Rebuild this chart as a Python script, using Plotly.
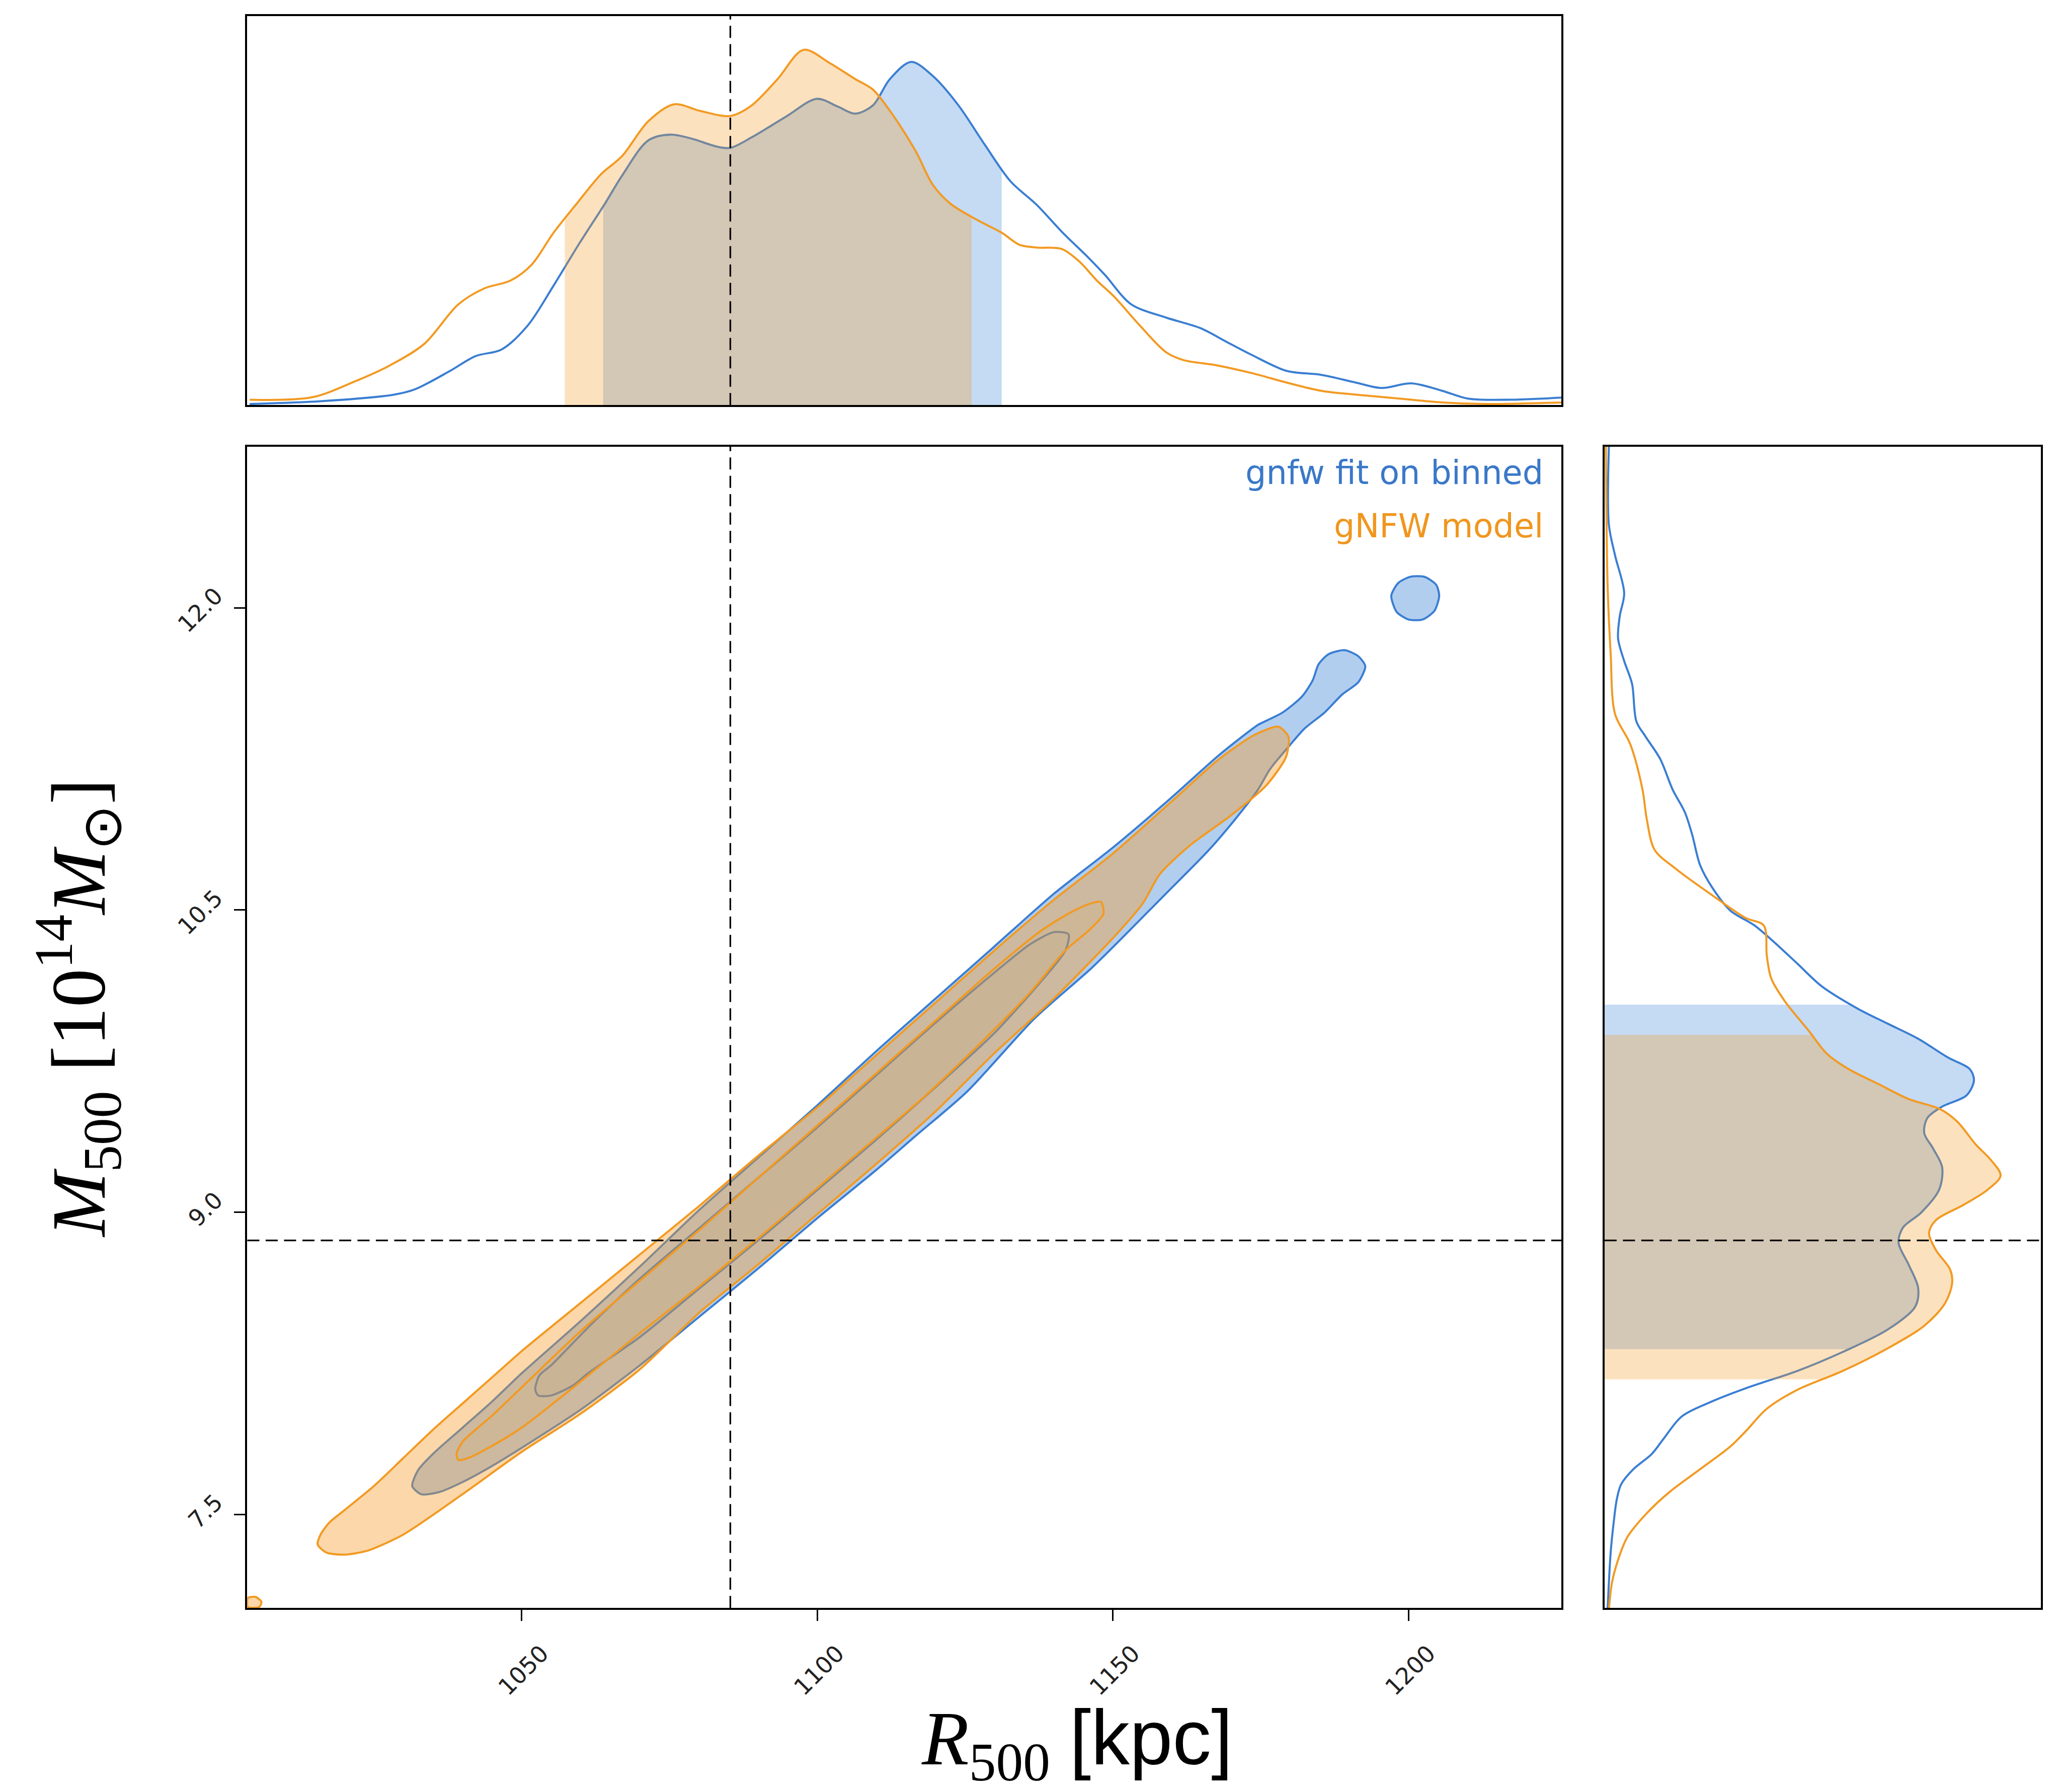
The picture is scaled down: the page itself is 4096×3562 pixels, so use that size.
import numpy as np
import plotly.graph_objects as go

S = 4096 / 4267
W, H = 4096, 3562
FW, FH = 4267, 3711

# ---------------- data ----------------
X_RANGE = [1003.6, 1225.9]
Y_RANGE = [7.035, 12.80]
R500_REF = 1085.3
M500_REF = 8.86

XTICKS = [1050, 1100, 1150, 1200]
XTICK_LABELS = ["1050", "1100", "1150", "1200"]
YTICKS = [7.5, 9.0, 10.5, 12.0]
YTICK_LABELS = ["7.5", "9.0", "10.5", "12.0"]

LEGEND_LABELS = ["gnfw fit on binned", "gNFW model"]

# top marginal (R500 density, normalised to panel height)
TOP_X_BLUE = [1004.0, 1016.0, 1028.4, 1032.0, 1037.9, 1042.2, 1046.6, 1051.0, 1055.4, 1059.7, 1064.1, 1067.0,
              1071.4, 1075.1, 1078.7, 1083.1, 1085.3, 1088.9, 1094.8, 1099.9, 1103.5, 1106.4, 1109.4, 1112.3,
              1115.9, 1119.6, 1123.9, 1128.3, 1132.7, 1137.1, 1141.4, 1145.8, 1148.7, 1153.1, 1159.0, 1164.8,
              1169.2, 1173.5, 1179.4, 1185.2, 1191.1, 1195.4, 1200.5, 1205.7, 1210.0, 1217.3, 1226.4]
TOP_D_BLUE = [0.003, 0.010, 0.027, 0.041, 0.088, 0.126, 0.143, 0.204, 0.307, 0.414, 0.518, 0.590,
              0.680, 0.695, 0.685, 0.664, 0.661, 0.688, 0.742, 0.787, 0.767, 0.749, 0.770, 0.838,
              0.882, 0.845, 0.770, 0.670, 0.575, 0.515, 0.445, 0.380, 0.334, 0.259, 0.225, 0.198,
              0.163, 0.129, 0.088, 0.078, 0.058, 0.044, 0.056, 0.037, 0.017, 0.014, 0.020]
TOP_X_ORANGE = [1004.0, 1014.5, 1021.8, 1027.7, 1033.5, 1039.3, 1043.7, 1048.1, 1051.7, 1055.4, 1059.7, 1063.4,
                1067.0, 1071.4, 1075.8, 1080.2, 1085.3, 1088.9, 1093.3, 1097.7, 1102.1, 1106.4, 1109.4, 1112.3,
                1116.6, 1119.6, 1122.5, 1126.9, 1131.2, 1134.2, 1137.1, 1141.4, 1144.4, 1147.3, 1150.2, 1154.6,
                1159.0, 1161.9, 1167.7, 1173.6, 1179.4, 1185.2, 1191.1, 1198.4, 1205.7, 1213.0, 1226.4]
TOP_D_ORANGE = [0.014, 0.020, 0.061, 0.102, 0.157, 0.259, 0.300, 0.320, 0.361, 0.443, 0.525, 0.593,
                0.640, 0.729, 0.773, 0.756, 0.743, 0.770, 0.838, 0.913, 0.879, 0.838, 0.811, 0.756,
                0.654, 0.565, 0.518, 0.477, 0.443, 0.412, 0.405, 0.401, 0.368, 0.320, 0.279, 0.204,
                0.136, 0.116, 0.102, 0.082, 0.058, 0.037, 0.027, 0.017, 0.007, 0.003, 0.007]
TOP_BAND_BLUE = [1063.8, 1131.2]
TOP_BAND_ORANGE = [1057.3, 1126.1]

# right marginal (M500 density, normalised to panel width)
RIGHT_Y_BLUE = [12.805, 12.411, 12.261, 12.073, 11.961, 11.848, 11.736, 11.623, 11.436, 11.361, 11.248, 11.098,
                10.986, 10.873, 10.723, 10.611, 10.498, 10.423, 10.348, 10.236, 10.123, 10.011, 9.936, 9.861,
                9.767, 9.711, 9.655, 9.580, 9.524, 9.467, 9.392, 9.317, 9.223, 9.111, 8.998, 8.923, 8.849,
                8.736, 8.624, 8.530, 8.417, 8.305, 8.211, 8.136, 8.061, 7.986, 7.874, 7.799, 7.724, 7.649,
                7.574, 7.461, 7.311, 7.030]
RIGHT_D_BLUE = [0.010, 0.010, 0.024, 0.045, 0.035, 0.031, 0.045, 0.063, 0.073, 0.094, 0.128, 0.156,
                0.184, 0.201, 0.219, 0.247, 0.288, 0.344, 0.385, 0.441, 0.497, 0.580, 0.649, 0.719,
                0.788, 0.837, 0.847, 0.830, 0.774, 0.740, 0.733, 0.753, 0.774, 0.767, 0.726, 0.684, 0.674,
                0.698, 0.719, 0.712, 0.649, 0.545, 0.441, 0.337, 0.247, 0.177, 0.135, 0.108, 0.066, 0.038,
                0.028, 0.021, 0.014, 0.007]
RIGHT_Y_ORANGE = [12.805, 12.111, 11.773, 11.473, 11.323, 11.098, 10.948, 10.798, 10.705, 10.573, 10.461,
                  10.423, 10.273, 10.161, 10.048, 9.898, 9.786, 9.711, 9.636, 9.561, 9.512, 9.449, 9.336,
                  9.261, 9.182, 9.111, 9.036, 8.961, 8.897, 8.811, 8.717, 8.650, 8.549, 8.436, 8.324, 8.211,
                  8.117, 8.024, 7.911, 7.836, 7.724, 7.611, 7.499, 7.386, 7.274, 7.161, 7.030]
RIGHT_D_ORANGE = [0.003, 0.007, 0.014, 0.024, 0.059, 0.087, 0.097, 0.115, 0.163, 0.247, 0.323,
                  0.365, 0.372, 0.382, 0.413, 0.469, 0.510, 0.559, 0.628, 0.698, 0.769, 0.809, 0.851,
                  0.885, 0.908, 0.878, 0.823, 0.760, 0.744, 0.760, 0.792, 0.797, 0.781, 0.733, 0.649, 0.545,
                  0.441, 0.372, 0.323, 0.288, 0.219, 0.149, 0.094, 0.052, 0.031, 0.017, 0.010]
RIGHT_BAND_BLUE = [8.32, 10.03]
RIGHT_BAND_ORANGE = [8.17, 9.88]

# joint credible contours (outline vertices)
BLUE_OUTER_X = [1031.5, 1032.5, 1035, 1040, 1045, 1050, 1060, 1070, 1080, 1090, 1100, 1110, 1120, 1130, 1140,
                1150, 1160, 1168, 1174.6, 1176, 1178.7, 1182, 1183.8, 1184.8, 1186.5, 1189.2, 1191.5, 1192.7,
                1191.5, 1188.8, 1185.8, 1182.4, 1179.7, 1176.6, 1174.6, 1170.4, 1166.0, 1158.6, 1146.7, 1136.7,
                1125.4, 1116.7, 1110, 1100, 1090, 1080, 1070, 1060, 1050, 1045, 1040, 1036, 1033]
BLUE_OUTER_Y = [7.64, 7.72, 7.80, 7.93, 8.06, 8.20, 8.46, 8.73, 9.01, 9.27, 9.53, 9.80, 10.06, 10.32, 10.58,
                10.81, 11.06, 11.27, 11.42, 11.44, 11.48, 11.56, 11.64, 11.72, 11.77, 11.79, 11.76, 11.71,
                11.63, 11.57, 11.48, 11.40, 11.31, 11.20, 11.10, 10.94, 10.79, 10.57, 10.22, 9.96,
                9.60, 9.38, 9.21, 8.97, 8.72, 8.48, 8.24, 8.02, 7.83, 7.74, 7.66, 7.61, 7.60]
BLUE_BLOB_X = [1197.1, 1198.3, 1200.3, 1202.7, 1204.7, 1205.2, 1204.4, 1202.4, 1200.0, 1198.0]
BLUE_BLOB_Y = [12.060, 12.124, 12.154, 12.154, 12.114, 12.060, 11.985, 11.942, 11.942, 11.980]
BLUE_INNER_X = [1052.3, 1053, 1055, 1058, 1062, 1070, 1080, 1090, 1100, 1110, 1120, 1130, 1136, 1140, 1142.5,
                1142, 1138, 1130, 1120, 1110, 1100, 1090, 1080, 1070, 1061.2, 1058.7, 1055, 1052.8]
BLUE_INNER_Y = [8.12, 8.19, 8.24, 8.33, 8.45, 8.67, 8.92, 9.17, 9.42, 9.68, 9.94, 10.19, 10.33, 10.39, 10.38,
                10.30, 10.15, 9.89, 9.62, 9.36, 9.11, 8.86, 8.62, 8.38, 8.20, 8.14, 8.09, 8.09]
ORANGE_OUTER_X = [1016.0, 1017.5, 1020, 1025, 1030, 1035, 1040, 1045, 1050, 1060, 1070, 1080, 1090, 1100, 1110,
                  1120, 1130, 1140, 1150, 1160, 1168, 1174, 1178, 1179.7, 1179.3,
                  1176, 1170, 1163, 1158, 1155, 1150, 1140, 1130, 1120, 1110, 1100, 1090, 1080, 1070, 1060,
                  1050, 1040, 1030, 1024, 1020, 1017, 1015.5]
ORANGE_OUTER_Y = [7.40, 7.46, 7.52, 7.64, 7.78, 7.92, 8.05, 8.18, 8.31, 8.55, 8.79, 9.03, 9.28, 9.52, 9.78,
                  10.04, 10.30, 10.55, 10.78, 11.04, 11.25, 11.37, 11.41, 11.36, 11.26,
                  11.12, 10.97, 10.82, 10.68, 10.53, 10.36, 10.06, 9.79, 9.50, 9.24, 8.99, 8.74, 8.50, 8.22, 8.00,
                  7.81, 7.60, 7.40, 7.32, 7.30, 7.31, 7.35]
ORANGE_CORNER_X = [1003.7, 1003.7, 1005.0, 1006.0, 1005.6]
ORANGE_CORNER_Y = [7.040, 7.085, 7.090, 7.065, 7.040]
ORANGE_INNER_X = [1039.0, 1040, 1045, 1050, 1060, 1070, 1080, 1090, 1100, 1110, 1120, 1130, 1138, 1143, 1146, 1148,
                  1148.4, 1146, 1142, 1136, 1128, 1118, 1110, 1100, 1090, 1080, 1070, 1060, 1050, 1045, 1041, 1039.3]
ORANGE_INNER_Y = [7.80, 7.86, 7.99, 8.13, 8.41, 8.66, 8.91, 9.17, 9.43, 9.69, 9.95, 10.21, 10.40, 10.49, 10.53, 10.54,
                  10.48, 10.40, 10.30, 10.09, 9.85, 9.57, 9.37, 9.12, 8.87, 8.63, 8.40, 8.16, 7.93, 7.84, 7.78, 7.77]

# ---------------- styles ----------------
BLUE_RGB = (62, 132, 215)
ORANGE_RGB = (246, 156, 40)
BLUE_LINE = "#3A7ED2"
ORANGE_LINE = "#F29A22"


def rgba(c, a):
    return f"rgba({c[0]},{c[1]},{c[2]},{a})"


XD_MAIN = [512 / FW, 3233 / FW]
XD_RIGHT = [3322 / FW, 4225 / FW]
YD_MAIN = [1 - 3330 / FH, 1 - 925 / FH]
YD_TOP = [1 - 839 / FH, 1 - 33 / FH]

LW = 4.2 * S
SM = 0.9


def band(xs, ds, lo, hi):
    xs = np.asarray(xs, float)
    ds = np.asarray(ds, float)
    order = np.argsort(xs)
    xs, ds = xs[order], ds[order]
    inner = xs[(xs > lo) & (xs < hi)]
    bx = np.concatenate([[lo], inner, [hi]])
    return bx, np.interp(bx, xs, ds)


fig = go.Figure()

# ---- top marginal ----
for xs, ds, bnd, rgb, lc in [(TOP_X_BLUE, TOP_D_BLUE, TOP_BAND_BLUE, BLUE_RGB, BLUE_LINE),
                             (TOP_X_ORANGE, TOP_D_ORANGE, TOP_BAND_ORANGE, ORANGE_RGB, ORANGE_LINE)]:
    bx, bd = band(xs, ds, *bnd)
    fig.add_trace(go.Scatter(x=bx, y=bd, mode="lines", fill="tozeroy", fillcolor=rgba(rgb, 0.30),
                             line=dict(width=0, shape="spline", smoothing=SM), xaxis="x2", yaxis="y2",
                             hoverinfo="skip"))
    fig.add_trace(go.Scatter(x=xs, y=ds, mode="lines", line=dict(color=lc, width=LW, shape="spline", smoothing=SM),
                             xaxis="x2", yaxis="y2", hoverinfo="skip"))

# ---- right marginal ----
for ys, ds, bnd, rgb, lc in [(RIGHT_Y_BLUE, RIGHT_D_BLUE, RIGHT_BAND_BLUE, BLUE_RGB, BLUE_LINE),
                             (RIGHT_Y_ORANGE, RIGHT_D_ORANGE, RIGHT_BAND_ORANGE, ORANGE_RGB, ORANGE_LINE)]:
    by, bd = band(ys, ds, *bnd)
    fig.add_trace(go.Scatter(x=bd, y=by, mode="lines", fill="tozerox", fillcolor=rgba(rgb, 0.30),
                             line=dict(width=0, shape="spline", smoothing=SM), xaxis="x3", yaxis="y3",
                             hoverinfo="skip"))
    fig.add_trace(go.Scatter(x=ds, y=ys, mode="lines", line=dict(color=lc, width=LW, shape="spline", smoothing=SM),
                             xaxis="x3", yaxis="y3", hoverinfo="skip"))


# ---- joint contours ----
def contour(xs, ys, rgb, lc, alpha):
    xs = list(xs) + [xs[0]]
    ys = list(ys) + [ys[0]]
    fig.add_trace(go.Scatter(x=xs, y=ys, mode="lines", fill="toself", fillcolor=rgba(rgb, alpha),
                             line=dict(color=lc, width=LW, shape="spline", smoothing=0.7),
                             xaxis="x", yaxis="y", hoverinfo="skip"))


contour(BLUE_OUTER_X, BLUE_OUTER_Y, BLUE_RGB, BLUE_LINE, 0.40)
contour(BLUE_BLOB_X, BLUE_BLOB_Y, BLUE_RGB, BLUE_LINE, 0.40)
contour(BLUE_INNER_X, BLUE_INNER_Y, BLUE_RGB, BLUE_LINE, 0.06)
contour(ORANGE_OUTER_X, ORANGE_OUTER_Y, ORANGE_RGB, ORANGE_LINE, 0.40)
contour(ORANGE_CORNER_X, ORANGE_CORNER_Y, ORANGE_RGB, ORANGE_LINE, 0.40)
contour(ORANGE_INNER_X, ORANGE_INNER_Y, ORANGE_RGB, ORANGE_LINE, 0.06)

# ---- reference lines ----
dash = f"{25 * S:.1f}px,{13 * S:.1f}px"
dl = dict(color="black", width=3.4 * S, dash=dash)
shapes = [
    dict(type="line", xref="x", yref="y domain", x0=R500_REF, x1=R500_REF, y0=0, y1=1, line=dl),
    dict(type="line", xref="x2", yref="y2 domain", x0=R500_REF, x1=R500_REF, y0=0, y1=1, line=dl),
    dict(type="line", xref="x domain", yref="y", x0=0, x1=1, y0=M500_REF, y1=M500_REF, line=dl),
    dict(type="line", xref="x3 domain", yref="y3", x0=0, x1=1, y0=M500_REF, y1=M500_REF, line=dl),
]

# ---- text ----
tick_font = dict(family="DejaVu Sans", size=48 * S, color="#222222")
ann = []

title_font = dict(family="Liberation Serif", size=160 * S, color="black")
ann.append(dict(x=2230 / FW, xref="paper", y=1 - 3610 / FH, yref="paper", showarrow=False,
                text='<i>R</i><sub>500</sub> <span style="font-family:Liberation Sans">[kpc]</span>',
                xanchor="center", yanchor="middle", font=title_font))
ann.append(dict(x=162 / FW, xref="paper", y=1 - 2088 / FH, yref="paper", showarrow=False, textangle=-90,
                text="<i>M</i><sub>500</sub> [10<sup>14</sup><i>M</i><sub>⊙</sub>]",
                xanchor="center", yanchor="middle", font=title_font))

leg_font = 68 * S
ann.append(dict(x=3197 / FW, xref="paper", y=1 - 978 / FH, yref="paper", showarrow=False, text=LEGEND_LABELS[0],
                xanchor="right", yanchor="middle", font=dict(family="DejaVu Sans", size=leg_font, color="#3A78C8")))
ann.append(dict(x=3197 / FW, xref="paper", y=1 - 1089 / FH, yref="paper", showarrow=False, text=LEGEND_LABELS[1],
                xanchor="right", yanchor="middle", font=dict(family="DejaVu Sans", size=leg_font, color="#F0961E")))

box = dict(showline=True, mirror=True, linecolor="black", linewidth=4 * S, showgrid=False, zeroline=False)
tk = dict(ticks="outside", ticklen=23 * S, tickwidth=3 * S, tickcolor="black", tickangle=-45, tickfont=tick_font)
nt = dict(ticks="", showticklabels=False)

fig.update_layout(
    width=W, height=H, margin=dict(l=0, r=0, t=0, b=0),
    paper_bgcolor="white", plot_bgcolor="white", showlegend=False,
    xaxis=dict(domain=XD_MAIN, range=X_RANGE, anchor="y", tickvals=XTICKS, ticktext=XTICK_LABELS,
               ticklabelshift=40, ticklabelstandoff=19, **box, **tk),
    yaxis=dict(domain=YD_MAIN, range=Y_RANGE, anchor="x", tickvals=YTICKS, ticktext=YTICK_LABELS,
               ticklabelshift=-30, ticklabelstandoff=27, **box, **tk),
    xaxis2=dict(domain=XD_MAIN, range=X_RANGE, anchor="y2", **box, **nt),
    yaxis2=dict(domain=YD_TOP, range=[0, 1], anchor="x2", **box, **nt),
    xaxis3=dict(domain=XD_RIGHT, range=[0, 1], anchor="y3", **box, **nt),
    yaxis3=dict(domain=YD_MAIN, range=Y_RANGE, anchor="x3", **box, **nt),
    shapes=shapes, annotations=ann,
)

fig.write_html("out.html")
